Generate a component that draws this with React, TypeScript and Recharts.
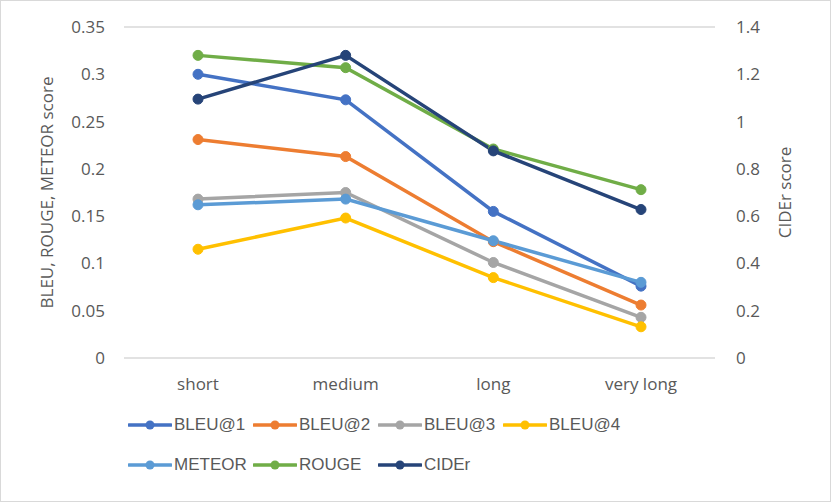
import { LineChart, Line, XAxis, YAxis, CartesianGrid } from "recharts";

const categories = ["short", "medium", "long", "very long"];

const bleu1 = [0.3, 0.273, 0.155, 0.076];
const bleu2 = [0.231, 0.213, 0.123, 0.056];
const bleu3 = [0.168, 0.175, 0.101, 0.043];
const bleu4 = [0.115, 0.148, 0.085, 0.033];
const meteor = [0.162, 0.168, 0.124, 0.08];
const rouge = [0.32, 0.307, 0.221, 0.178];
const cider = [1.095, 1.28, 0.876, 0.628];

const leftTicks = [0, 0.05, 0.1, 0.15, 0.2, 0.25, 0.3, 0.35];
const rightTicks = [0, 0.2, 0.4, 0.6, 0.8, 1, 1.2, 1.4];

const series = [
  { key: "BLEU@1", values: bleu1, color: "#4472C4", axis: "left" },
  { key: "BLEU@2", values: bleu2, color: "#ED7D31", axis: "left" },
  { key: "BLEU@3", values: bleu3, color: "#A5A5A5", axis: "left" },
  { key: "BLEU@4", values: bleu4, color: "#FFC000", axis: "left" },
  { key: "METEOR", values: meteor, color: "#5B9BD5", axis: "left" },
  { key: "ROUGE", values: rouge, color: "#70AD47", axis: "left" },
  { key: "CIDEr", values: cider, color: "#264478", axis: "right" },
];

const data = categories.map((c, i) => {
  const row: Record<string, string | number> = { name: c };
  series.forEach((s) => {
    row[s.key] = s.values[i];
  });
  return row;
});

const fmt = (v: number) => String(Number(v.toFixed(2)));

const textColor = "#595959";
const font = "'Open Sans', 'Liberation Sans', sans-serif";

function ChartLegend() {
  return (
    <div
      style={{
        position: "absolute",
        left: 127,
        top: 411,
        display: "grid",
        gridTemplateColumns: "125px 125px 125px 125px",
        rowGap: 14,
        fontFamily: "'Liberation Sans', Arial, sans-serif",
        fontSize: 17,
        color: textColor,
      }}
    >
      {series.map((s) => (
        <div key={s.key} style={{ display: "flex", alignItems: "center", height: 26 }}>
          <svg width={44} height={12} style={{ marginRight: 2 }}>
            <line x1={1} y1={6} x2={43} y2={6} stroke={s.color} strokeWidth={3.5} strokeLinecap="round" />
            <circle cx={22} cy={6} r={4.5} fill={s.color} />
          </svg>
          <span>{s.key}</span>
        </div>
      ))}
    </div>
  );
}

export default function App() {
  return (
    <div
      style={{
        position: "fixed",
        left: 0,
        top: 0,
        width: 831,
        height: 502,
        boxSizing: "border-box",
        border: "1px solid #d9d9d9",
        background: "#fff",
      }}
    >
      <LineChart
        width={829}
        height={500}
        data={data}
        margin={{ top: 26, right: 0, bottom: 113, left: 0 }}
      >
        <CartesianGrid vertical={false} stroke="#d9d9d9" strokeWidth={1.5} />
        <XAxis
          dataKey="name"
          height={30}
          padding={{ left: 74, right: 74 }}
          axisLine={false}
          tickLine={false}
          tick={{ fill: textColor, fontSize: 17, fontFamily: font }}
          tickMargin={14}
        />
        <YAxis
          yAxisId="left"
          domain={[0, 0.35]}
          ticks={leftTicks}
          tickFormatter={fmt}
          axisLine={false}
          tickLine={false}
          width={123}
          tickMargin={13}
          tick={{ fill: textColor, fontSize: 17, fontFamily: font }}
          label={{
            value: "BLEU, ROUGE, METEOR score",
            angle: -90,
            position: "insideLeft",
            offset: 46,
            style: { fill: textColor, fontSize: 17, fontFamily: font, textAnchor: "middle" },
          }}
        />
        <YAxis
          yAxisId="right"
          orientation="right"
          domain={[0, 1.4]}
          ticks={rightTicks}
          tickFormatter={fmt}
          axisLine={false}
          tickLine={false}
          width={115}
          tickMargin={15}
          tick={{ fill: textColor, fontSize: 17, fontFamily: font }}
          label={{
            value: "CIDEr score",
            angle: -90,
            position: "insideRight",
            offset: 45,
            style: { fill: textColor, fontSize: 17, fontFamily: font, textAnchor: "middle" },
          }}
        />
        {series.map((s) => (
          <Line
            key={s.key}
            yAxisId={s.axis}
            dataKey={s.key}
            stroke={s.color}
            strokeWidth={3.5}
            dot={{ r: 5, fill: s.color, stroke: s.color, strokeWidth: 1 }}
            isAnimationActive={false}
          />
        ))}
      </LineChart>
      <ChartLegend />
    </div>
  );
}
